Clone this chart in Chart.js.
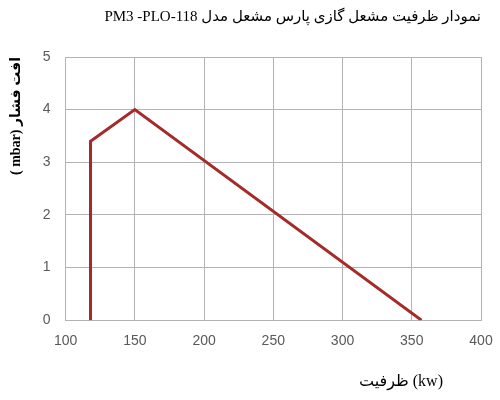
<!DOCTYPE html>
<html>
<head>
<meta charset="utf-8">
<script src="https://cdn.jsdelivr.net/npm/chart.js@4"></script>
<style>
  html, body { margin: 0; padding: 0; background: #fff; }
  #wrap { width: 500px; height: 400px; }
</style>
</head>
<body>
<div id="wrap"><canvas id="capacityChart" width="500" height="400"></canvas></div>
<script>
// burner capacity curve
const capacityKw = [118, 118, 150, 357];
const pressureDropMbar = [0, 3.4, 4, 0];
const xTicks = [100, 150, 200, 250, 300, 350, 400];
const yTicks = [0, 1, 2, 3, 4, 5];

const chartTitle = 'PM3 -PLO-118 نمودار ظرفیت مشعل گازی پارس مشعل مدل';
const xTitle = 'ظرفیت (kw)';
const yTitle = '( mbar) افت فشار';

const serif = "'Liberation Serif', 'DejaVu Sans', serif";
const tickFont = "'Liberation Sans', 'DejaVu Sans', sans-serif";

// x axis title sits right of centre in the original, so draw it by hand
const xTitlePlugin = {
    id: 'xTitle',
    afterDraw(chart) {
        const ctx = chart.ctx;
        const area = chart.chartArea;
        ctx.save();
        ctx.font = '16px ' + serif;
        ctx.fillStyle = '#000';
        ctx.textAlign = 'right';
        ctx.textBaseline = 'middle';
        ctx.fillText(xTitle, area.right - 38, area.bottom + 62);
        ctx.restore();
    }
};

const points = capacityKw.map((x, i) => ({ x: x, y: pressureDropMbar[i] }));

new Chart(document.getElementById('capacityChart').getContext('2d'), {
    type: 'scatter',
    data: {
        datasets: [{
            data: points,
            showLine: true,
            borderColor: '#a52a2a',
            borderWidth: 3,
            pointRadius: 0,
            fill: false,
            tension: 0
        }]
    },
    options: {
        responsive: false,
        animation: false,
        layout: {
            padding: { left: 0, right: 0, top: 0, bottom: 37 }
        },
        plugins: {
            legend: { display: false },
            tooltip: { enabled: false },
            title: {
                display: true,
                text: chartTitle,
                align: 'end',
                fullSize: false,
                color: '#000',
                font: { family: serif, size: 15, weight: 'normal' },
                padding: { top: 8, bottom: 31 }
            }
        },
        scales: {
            x: {
                type: 'linear',
                min: xTicks[0],
                max: xTicks[xTicks.length - 1],
                afterBuildTicks: axis => { axis.ticks = xTicks.map(v => ({ value: v })); },
                // the last label may hang a bit closer to the edge than Chart.js allows
                afterFit: axis => { axis.paddingRight = 19; },
                grid: { color: '#b3b3b3', drawTicks: false },
                border: { color: '#b3b3b3' },
                ticks: {
                    color: '#595959',
                    padding: 13,
                    font: { family: tickFont, size: 14 }
                }
            },
            y: {
                type: 'linear',
                min: yTicks[0],
                max: yTicks[yTicks.length - 1],
                afterBuildTicks: axis => { axis.ticks = yTicks.map(v => ({ value: v })); },
                grid: { color: '#b3b3b3', drawTicks: false },
                border: { color: '#b3b3b3' },
                ticks: {
                    color: '#595959',
                    padding: 15,
                    font: { family: tickFont, size: 14 }
                },
                title: {
                    display: true,
                    text: yTitle,
                    align: 'end',
                    color: '#000',
                    font: { family: serif, size: 14, weight: 'bold' },
                    padding: { top: 8, bottom: 3 }
                }
            }
        }
    },
    plugins: [xTitlePlugin]
});
</script>
</body>
</html>
